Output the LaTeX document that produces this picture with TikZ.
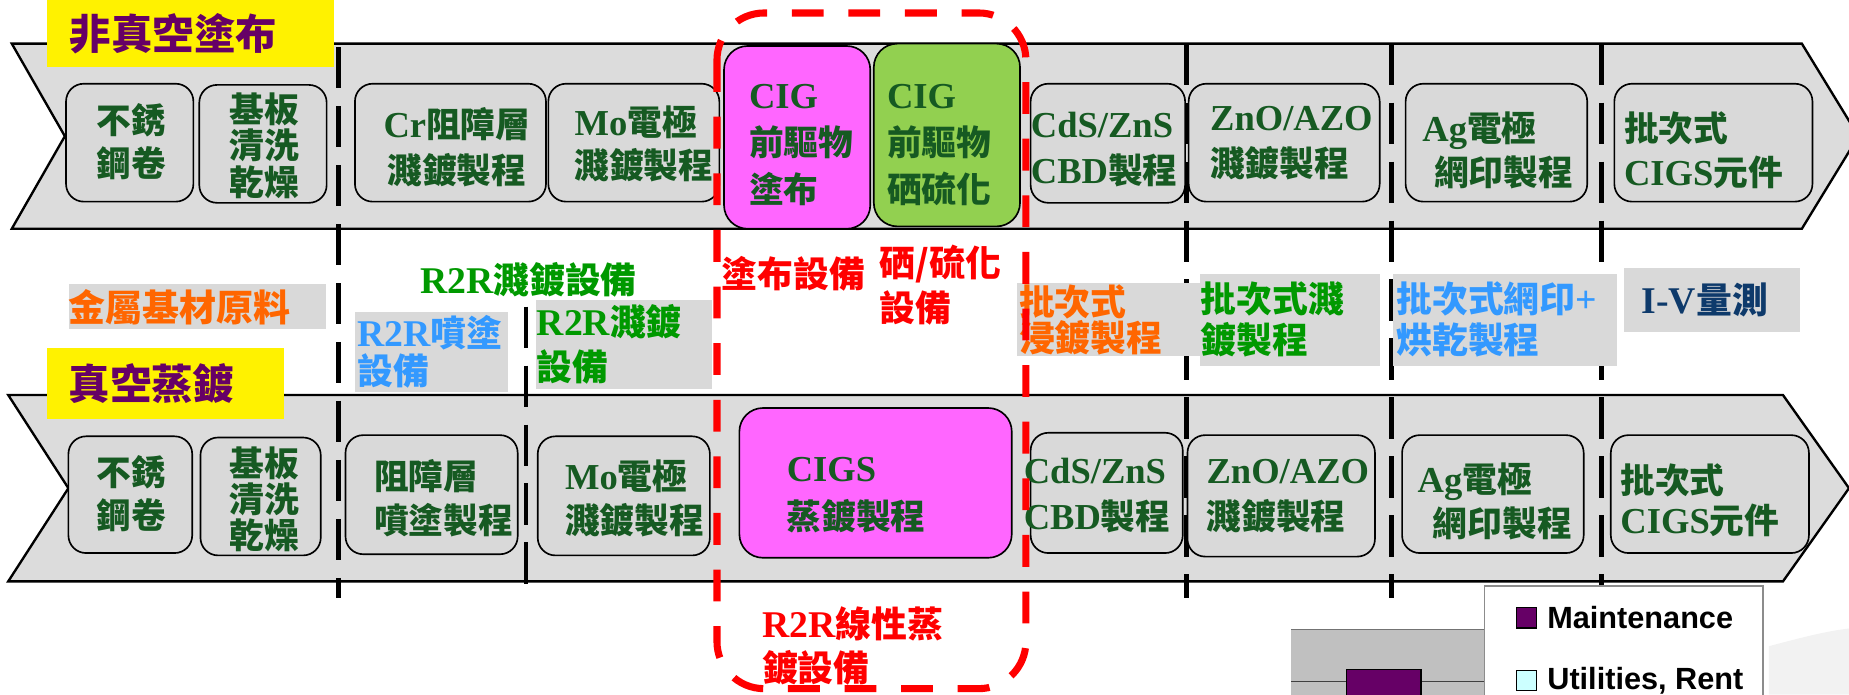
\documentclass[tikz,border=0pt]{standalone}
\usepackage{fontspec}
\setmainfont{Liberation Serif}
\newfontfamily\zhf{Noto Sans CJK TC}[Scale=0.95]
\newfontfamily\arialf{Liberation Sans}
\newcommand\zh[1]{{\zhf #1}}
\newcommand\fs[2]{\fontsize{#1}{#2}\selectfont}
\definecolor{bandgray}{HTML}{DCDCDC}
\definecolor{boxgray}{HTML}{D9D9D9}
\definecolor{lblgray}{HTML}{D9D9D9}
\definecolor{txtgreen}{RGB}{22,90,34}
\definecolor{hotpink}{HTML}{FF66FF}
\definecolor{leafgreen}{HTML}{92D050}
\definecolor{ttlpurple}{HTML}{660066}
\definecolor{orangeT}{HTML}{FF6600}
\definecolor{greenT}{HTML}{009900}
\definecolor{blueT}{HTML}{3399FF}
\definecolor{navyT}{HTML}{0E3A6B}
\definecolor{redT}{HTML}{FF0000}
\definecolor{chartgray}{HTML}{C0C0C0}
\definecolor{legcyan}{HTML}{CCFFFF}
\begin{document}
\begin{tikzpicture}[x=1pt,y=-1pt,
  band/.style={fill=bandgray,draw=black,line width=2pt,line join=miter},
  proc/.style={draw=black,line width=1.4pt,rounded corners=15pt,fill=boxgray,inner sep=0pt},
  hot/.style={proc,rounded corners=20pt},
  ptxt/.style={text=txtgreen,inner sep=0pt,align=left,anchor=west,font=\bfseries\fs{31}{#1}},
  ptxt/.default=37,
  lbl/.style={fill=lblgray,inner ysep=0pt,align=left,anchor=north west,font=\bfseries\fs{32}{#1}},
  lbl/.default=35,
  freetxt/.style={inner sep=0pt,align=left,anchor=west,font=\bfseries\fs{32}{#1}},
  freetxt/.default=38,
  ttl/.style={fill=yellow,text=ttlpurple,inner ysep=0pt,align=left,anchor=north west,font=\bfseries\fs{37}{40}},
  sepline/.style={draw=black,line width=4pt,dash pattern=on 35pt off 15pt},
  redbox/.style={draw=redT,line width=6pt,dash pattern=on 27pt off 21pt,rounded corners=40pt},
  legtxt/.style={inner sep=0pt,anchor=west,font=\arialf\bfseries\fs{26}{30}},
  legmark/.style={draw=black,line width=1pt,minimum size=17pt,inner sep=0pt}
]
\useasboundingbox (0,0) rectangle (1568,589);

% ---------- bands ----------
\draw[band] (10,37) -- (1528,37) -- (1576,115.5) -- (1528,194) -- (10,194) -- (55,115.5) -- cycle;
\draw[band] (7,335) -- (1512,335) -- (1568,414) -- (1512,493) -- (7,493) -- (58,414) -- cycle;

% ---------- separators ----------
\coordinate (s1t) at (287,40);   \coordinate (s1b) at (287,507);
\coordinate (s2t) at (446,260);  \coordinate (s2b) at (446,507);
\coordinate (s3t) at (1006,37);  \coordinate (s3b) at (1006,507);
\coordinate (s4t) at (1180,37);  \coordinate (s4b) at (1180,507);
\coordinate (s5t) at (1358,37);  \coordinate (s5b) at (1358,507);
\draw[sepline] (s1t) -- (s1b);
\draw[sepline] (s2t) -- (s2b);
\draw[sepline] (s3t) -- (s3b);
\draw[sepline] (s4t) -- (s4b);
\draw[sepline] (s5t) -- (s5b);

% ---------- top row boxes ----------
\node[proc,minimum width=108pt,minimum height=100pt] (tb1) at (110,121) {};
\node[proc,minimum width=108pt,minimum height=100pt] (tb2) at (223,122) {};
\node[proc,minimum width=162pt,minimum height=100pt] (tb3) at (382,121) {};
\node[proc,minimum width=145pt,minimum height=100pt] (tb4) at (537.5,121) {};
\node[hot,fill=hotpink,minimum width=124pt,minimum height=155pt] (tb5) at (676,116.5) {};
\node[hot,fill=leafgreen,minimum width=124pt,minimum height=155pt] (tb6) at (803,114.5) {};
\node[proc,minimum width=131pt,minimum height=101pt] (tb7) at (939.5,121.5) {};
\node[proc,minimum width=162pt,minimum height=100pt] (tb8) at (1089,121) {};
\node[proc,minimum width=154pt,minimum height=100pt] (tb9) at (1269,121) {};
\node[proc,minimum width=168pt,minimum height=100pt] (tb10) at (1453,121) {};

\node[ptxt=36,anchor=center,align=center] (tt1) at (111.5,120) {\zh{不銹}\\\zh{鋼卷}};
\node[ptxt=31,anchor=center,align=center] (tt2) at (224,123.5) {\zh{基板}\\\zh{清洗}\\\zh{乾燥}};
\node[ptxt=39,anchor=center,align=center] (tt3) at (387.5,124.5) {Cr\zh{阻障層}\\\zh{濺鍍製程}};
\node[ptxt=37] (tt4) at (487,122) {Mo\zh{電極}\\\zh{濺鍍製程}};
\node[ptxt=40] (tt5) at (635,123) {CIG\\\zh{前驅物}\\\zh{塗布}};
\node[ptxt=40] (tt6) at (752,123) {CIG\\\zh{前驅物}\\\zh{硒硫化}};
\node[ptxt=39] (tt7) at (874,126.5) {CdS/ZnS\\CBD\zh{製程}};
\node[ptxt=39] (tt8) at (1026,121.5) {ZnO/AZO\\\zh{濺鍍製程}};
\node[ptxt=37] (tt9) at (1206,127.5) {Ag\zh{電極}\\\hspace*{10pt}\zh{網印製程}};
\node[ptxt=37] (tt10) at (1377,127.5) {\zh{批次式}\\CIGS\zh{元件}};

% ---------- bottom row boxes ----------
\node[proc,minimum width=105pt,minimum height=99pt] (bb1) at (110.5,419.5) {};
\node[proc,minimum width=102pt,minimum height=100pt] (bb2) at (221,421) {};
\node[proc,minimum width=146pt,minimum height=101pt] (bb3) at (366,419.5) {};
\node[proc,minimum width=146pt,minimum height=101pt] (bb4) at (529,420.5) {};
\node[hot,fill=hotpink,minimum width=231pt,minimum height=127pt] (bb5) at (742.5,409.5) {};
\node[proc,minimum width=129pt,minimum height=102pt] (bb6) at (938.5,418) {};
\node[proc,minimum width=159pt,minimum height=103pt] (bb7) at (1086.5,420.5) {};
\node[proc,minimum width=154pt,minimum height=100pt] (bb8) at (1266,419) {};
\node[proc,minimum width=168pt,minimum height=100pt] (bb9) at (1450,419) {};

\node[ptxt=37,anchor=center,align=center] (bt1) at (111.5,418.5) {\zh{不銹}\\\zh{鋼卷}};
\node[ptxt=30.5,anchor=center,align=center] (bt2) at (224,423.5) {\zh{基板}\\\zh{清洗}\\\zh{乾燥}};
\node[ptxt=37] (bt3) at (317,422.5) {\zh{阻障層}\\\zh{噴塗製程}};
\node[ptxt=37] (bt4) at (479,422.5) {Mo\zh{電極}\\\zh{濺鍍製程}};
\node[ptxt=40] (bt5) at (667,420) {CIGS\\\zh{蒸鍍製程}};
\node[ptxt=39] (bt6) at (868,420.5) {CdS/ZnS\\CBD\zh{製程}};
\node[ptxt=39] (bt7) at (1023,420.5) {ZnO/AZO\\\zh{濺鍍製程}};
\node[ptxt=37] (bt8) at (1202,425.5) {Ag\zh{電極}\\\hspace*{13pt}\zh{網印製程}};
\node[ptxt=34] (bt9) at (1374,424) {\zh{批次式}\\CIGS\zh{元件}};

% ---------- middle labels ----------
\node[lbl,text=orangeT,font=\bfseries\fs{33}{36},inner xsep=0pt,text width=218pt,minimum width=218pt,minimum height=38pt] (m1) at (58,241) {\zh{金屬基材原料}};
\node[freetxt,text=greenT] (m2) at (356,237) {R2R\zh{濺鍍設備}};
\node[lbl=32,text=blueT,inner xsep=2pt,text width=126pt,minimum height=68pt] (m3) at (301,264) {R2R\zh{噴塗}\\\zh{設備}};
\node[lbl=38,text=greenT,inner xsep=1pt,text width=148pt,minimum height=76pt] (m4) at (454,254) {R2R\zh{濺鍍}\\\zh{設備}};
\node[lbl=30,text=orangeT,inner xsep=2pt,text width=151pt,minimum height=62pt] (m5) at (862,240) {\zh{批次式}\\\zh{浸鍍製程}};
\node[lbl=35,text=greenT,inner xsep=1pt,text width=151pt,minimum height=78pt] (m6) at (1017,232) {\zh{批次式濺}\\\zh{鍍製程}};
\node[lbl=35,text=blueT,inner xsep=3pt,text width=184pt,minimum height=78pt] (m7) at (1181,232) {\zh{批次式網印}+\\\zh{烘乾製程}};
\node[lbl,text=navyT,inner xsep=15pt,text width=119pt,minimum height=54pt] (m8) at (1377,227) {I-V\zh{量測}};
\node[freetxt,text=redT] (m9) at (612,232) {\zh{塗布設備}};
\node[freetxt,text=redT] (m10) at (746,242) {\zh{硒/硫化}\\\zh{設備}};
\node[freetxt=37,text=redT] (m11) at (646,548) {R2R\zh{線性蒸}\\\zh{鍍設備}};

% ---------- titles ----------
\node[ttl,inner xsep=19pt,text width=205pt,minimum height=57pt] (ttlA) at (40,0) {\zh{非真空塗布}};
\node[ttl,inner xsep=18pt,text width=165pt,minimum height=60pt] (ttlB) at (40,295) {\zh{真空蒸鍍}};

% ---------- chart fragment ----------
\fill[black!5] (1500,589) -- (1500,548) .. controls (1530,540) and (1550,535) .. (1568,533) -- (1568,589) -- cycle;
\fill[chartgray] (1095,534) rectangle (1259,589);
\draw[black!55,line width=1pt] (1095,534) -- (1259,534);
\draw[black!75,line width=1pt] (1095,578) -- (1259,578);
\draw[fill=ttlpurple,line width=1pt] (1142,568) rectangle (1205,595);
\fill[white] (1259,497) rectangle (1495,589);
\draw[black!45,line width=1.2pt] (1259,589) -- (1259,497) -- (1495,497) -- (1495,589);
\node[legmark,fill=ttlpurple] (lg1) at (1294.5,524) {};
\node[legtxt] (lt1) at (1312,524) {Maintenance};
\node[legmark,fill=legcyan] (lg2) at (1294.5,577) {};
\node[legtxt] (lt2) at (1312,577) {Utilities, Rent};

% ---------- red dashed frame ----------
\coordinate (rtl) at (608,11);
\coordinate (rbr) at (870,584);
\draw[redbox] (rtl) rectangle (rbr);
\end{tikzpicture}
\end{document}
